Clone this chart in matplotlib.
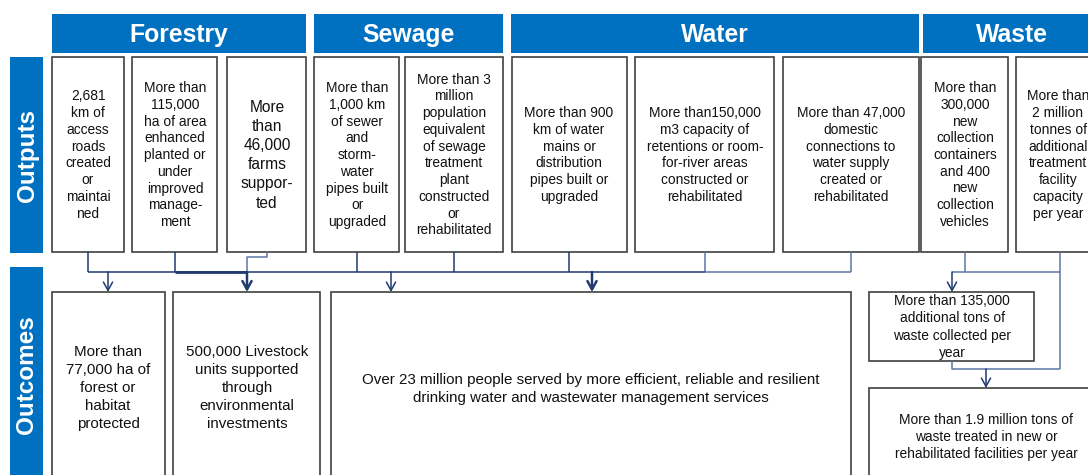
import matplotlib.pyplot as plt
from matplotlib.patches import Rectangle

plt.rcParams['font.family'] = ['Liberation Sans', 'DejaVu Sans']

# ---- content ----
sectors = ["Forestry", "Sewage", "Water", "Waste"]
row_labels = ["Outputs", "Outcomes"]

outputs = [
    "2,681\nkm of\naccess\nroads\ncreated\nor\nmaintai\nned",
    "More than\n115,000\nha of area\nenhanced\nplanted or\nunder\nimproved\nmanage-\nment",
    "More\nthan\n46,000\nfarms\nsuppor-\nted",
    "More than\n1,000 km\nof sewer\nand\nstorm-\nwater\npipes built\nor\nupgraded",
    "More than 3\nmillion\npopulation\nequivalent\nof sewage\ntreatment\nplant\nconstructed\nor\nrehabilitated",
    "More than 900\nkm of water\nmains or\ndistribution\npipes built or\nupgraded",
    "More than150,000\nm3 capacity of\nretentions or room-\nfor-river areas\nconstructed or\nrehabilitated",
    "More than 47,000\ndomestic\nconnections to\nwater supply\ncreated or\nrehabilitated",
    "More than\n300,000\nnew\ncollection\ncontainers\nand 400\nnew\ncollection\nvehicles",
    "More than\n2 million\ntonnes of\nadditional\ntreatment\nfacility\ncapacity\nper year",
]

outcomes = [
    "More than\n77,000 ha of\nforest or\nhabitat\nprotected",
    "500,000 Livestock\nunits supported\nthrough\nenvironmental\ninvestments",
    "Over 23 million people served by more efficient, reliable and resilient\ndrinking water and wastewater management services",
    "More than 135,000\nadditional tons of\nwaste collected per\nyear",
    "More than 1.9 million tons of\nwaste treated in new or\nrehabilitated facilities per year",
]

# ---- layout (pixel coordinates, y downwards) ----
BLUE = "#0070C0"
EDGE = "#404040"
NAVY = "#1F3B70"
LIGHT = "#5A77A6"

header_x = [(52, 306), (314, 503), (511, 919), (923, 1095)]
side_y = [(57, 253), (267, 480)]
out_x = [(52, 124), (132, 217), (227, 306), (314, 399), (405, 503),
         (512, 627), (635, 774), (783, 919), (921, 1008), (1016, 1095)]
out_text_x = [88, 175, 267, 357, 454, 569, 705, 851, 965, 1058]
out_size = [9.9, 9.9, 11.2, 9.9, 9.9, 9.9, 9.9, 9.9, 9.9, 9.9]
out_box = [(52, 292, 165, 480), (173, 292, 320, 480), (331, 292, 851, 480),
           (869, 292, 1034, 361), (869, 388, 1095, 480)]
outcome_text_xy = [(108, 388), (247, 388), (591, 389), (952, 327), (986, 437)]
outcome_size = [10.9, 10.9, 10.9, 9.9, 9.9]
outcome_spacing = [1.37, 1.37, 1.37, 1.28, 1.27]

fig = plt.figure(figsize=(10.88, 4.75), dpi=100)
ax = fig.add_axes([0, 0, 1, 1])
ax.set_xlim(0, 1088)
ax.set_ylim(475, 0)
ax.axis("off")

for name, (x0, x1) in zip(sectors, header_x):
    ax.add_patch(Rectangle((x0, 14), x1 - x0, 39, facecolor=BLUE, edgecolor="none"))
    cx = (x0 + min(x1, 1088)) / 2
    if name == "Waste":
        cx = 1012
    ax.text(cx, 35, name, color="white", fontsize=17.8, fontweight="bold",
            ha="center", va="center")

for name, (y0, y1) in zip(row_labels, side_y):
    ax.add_patch(Rectangle((10, y0), 33, y1 - y0, facecolor=BLUE, edgecolor="none"))
    cy = 155 if name == "Outputs" else 375
    ax.text(27, cy, name, color="white", fontsize=17.5, fontweight="bold",
            rotation=90, ha="center", va="center")

for txt, (x0, x1), tx, fs in zip(outputs, out_x, out_text_x, out_size):
    ax.add_patch(Rectangle((x0, 57), x1 - x0, 195, facecolor="white",
                           edgecolor=EDGE, linewidth=1.2))
    ax.text(tx, 155, txt, fontsize=fs, ha="center", va="center",
            linespacing=1.25 if fs < 11 else 1.35, color="#111111")

for txt, (x0, y0, x1, y1), (tx, ty), fs, ls in zip(outcomes, out_box, outcome_text_xy,
                                                    outcome_size, outcome_spacing):
    ax.add_patch(Rectangle((x0, y0), x1 - x0, y1 - y0, facecolor="white",
                           edgecolor=EDGE, linewidth=1.2))
    ax.text(tx, ty, txt, fontsize=fs, ha="center", va="center",
            linespacing=ls, color="#111111")

# ---- connectors ----
def seg(xs, ys, color=NAVY, lw=1.1):
    ax.plot(xs, ys, color=color, lw=lw, solid_capstyle="butt", zorder=3)

def arrow(x, y0, y1, lw=1.1):
    ax.annotate("", xy=(x, y1), xytext=(x, y0),
                arrowprops=dict(arrowstyle="->,head_length=0.6,head_width=0.33",
                                color=NAVY, lw=lw, shrinkA=0, shrinkB=0), zorder=4)

for x in [88, 175, 357, 454, 569]:
    seg([x, x], [252, 272])
seg([705, 705], [252, 272], LIGHT)
seg([851, 851], [252, 272], LIGHT)
seg([267, 267, 247, 247], [252, 257, 257, 272], LIGHT)
seg([88, 705], [272, 272])
seg([175, 247], [272, 272], lw=2.0)
seg([705, 851], [272, 272], LIGHT)
arrow(108, 272, 292)
arrow(247, 272, 292, lw=1.8)
arrow(391, 272, 292)
arrow(592, 272, 292, lw=1.8)

seg([965, 965], [252, 272], LIGHT)
seg([952, 1060], [272, 272], LIGHT)
seg([1060, 1060], [252, 369], LIGHT)
seg([952, 952, 1060], [361, 369, 369], LIGHT)
arrow(952, 272, 292)
arrow(986, 369, 388)

fig.savefig("out.png", dpi=100)
